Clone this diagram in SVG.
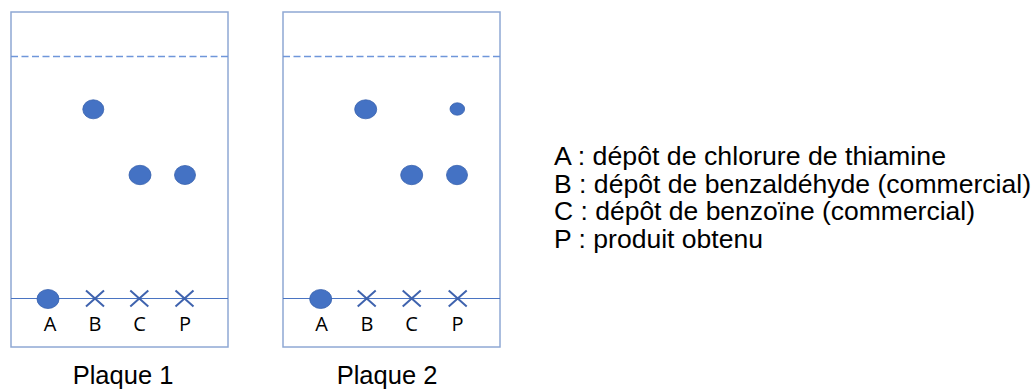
<svg xmlns="http://www.w3.org/2000/svg" width="1036" height="390" viewBox="0 0 1036 390">
<style>
.frame{fill:#fff;stroke:#8FA8D4;stroke-width:1.5}
.front{stroke:#6F96DA;stroke-width:1.3;stroke-dasharray:7 3.5;fill:none}
.base{stroke:#4A74C2;stroke-width:1;fill:none}
.spot{fill:#4472C4;stroke:#3A63AE;stroke-width:0.8}
.cross{stroke:#3F63AE;stroke-width:2;fill:none}
.lane{font-family:"Open Sans",Lato,sans-serif;font-size:20px;fill:#000;text-anchor:middle}
.cap{font-family:"Liberation Sans",Arial,sans-serif;font-size:25.5px;fill:#000;text-anchor:middle}
.leg{font-family:"Liberation Sans",Arial,sans-serif;font-size:25px;fill:#000}
</style>
<defs>
<path id="x" class="cross" d="M-9,-8L9,8M-9,8L9,-8"/>
</defs>
<rect width="1036" height="390" fill="#fff"/>
<g id="plaque1">
<rect class="frame" x="11" y="12" width="217" height="335"/>
<line class="front" x1="11" y1="56.5" x2="228" y2="56.5"/>
<line class="base" x1="11" y1="298.5" x2="228" y2="298.5"/>
<ellipse class="spot" cx="93.3" cy="109.3" rx="10.5" ry="9.5"/>
<ellipse class="spot" cx="140" cy="175" rx="11" ry="9.7"/>
<ellipse class="spot" cx="185" cy="175" rx="10.5" ry="9.5"/>
<ellipse class="spot" cx="48" cy="299" rx="11" ry="9.5"/>
<use href="#x" x="95" y="298.5"/>
<use href="#x" x="139.3" y="298.5"/>
<use href="#x" x="184.5" y="298.5"/>
<text class="lane" x="50" y="331">A</text>
<text class="lane" x="95" y="331">B</text>
<text class="lane" x="139.5" y="331">C</text>
<text class="lane" x="185" y="331">P</text>
<text class="cap" x="123" y="384">Plaque 1</text>
</g>
<g id="plaque2">
<rect class="frame" x="283" y="12" width="217" height="335"/>
<line class="front" x1="283" y1="56.5" x2="500" y2="56.5"/>
<line class="base" x1="283" y1="298.5" x2="500" y2="298.5"/>
<ellipse class="spot" cx="365.7" cy="109.3" rx="11" ry="9.5"/>
<ellipse class="spot" cx="457.3" cy="109" rx="7.3" ry="6.2"/>
<ellipse class="spot" cx="411.7" cy="175" rx="11" ry="9.7"/>
<ellipse class="spot" cx="457" cy="175" rx="10.5" ry="9.7"/>
<ellipse class="spot" cx="320.7" cy="299" rx="11" ry="9.5"/>
<use href="#x" x="366.7" y="298.5"/>
<use href="#x" x="411.7" y="298.5"/>
<use href="#x" x="457.7" y="298.5"/>
<text class="lane" x="321.5" y="331">A</text>
<text class="lane" x="367" y="331">B</text>
<text class="lane" x="411.5" y="331">C</text>
<text class="lane" x="457.5" y="331">P</text>
<text class="cap" x="387" y="384">Plaque 2</text>
</g>
<g id="legende">
<text class="leg" x="554" y="165" textLength="392" lengthAdjust="spacingAndGlyphs">A : dépôt de chlorure de thiamine</text>
<text class="leg" x="554" y="192.5" textLength="477" lengthAdjust="spacingAndGlyphs">B : dépôt de benzaldéhyde (commercial)</text>
<text class="leg" x="554" y="220" textLength="421" lengthAdjust="spacingAndGlyphs">C : dépôt de benzoïne (commercial)</text>
<text class="leg" x="554" y="247.5" textLength="209" lengthAdjust="spacingAndGlyphs">P : produit obtenu</text>
</g>
</svg>
